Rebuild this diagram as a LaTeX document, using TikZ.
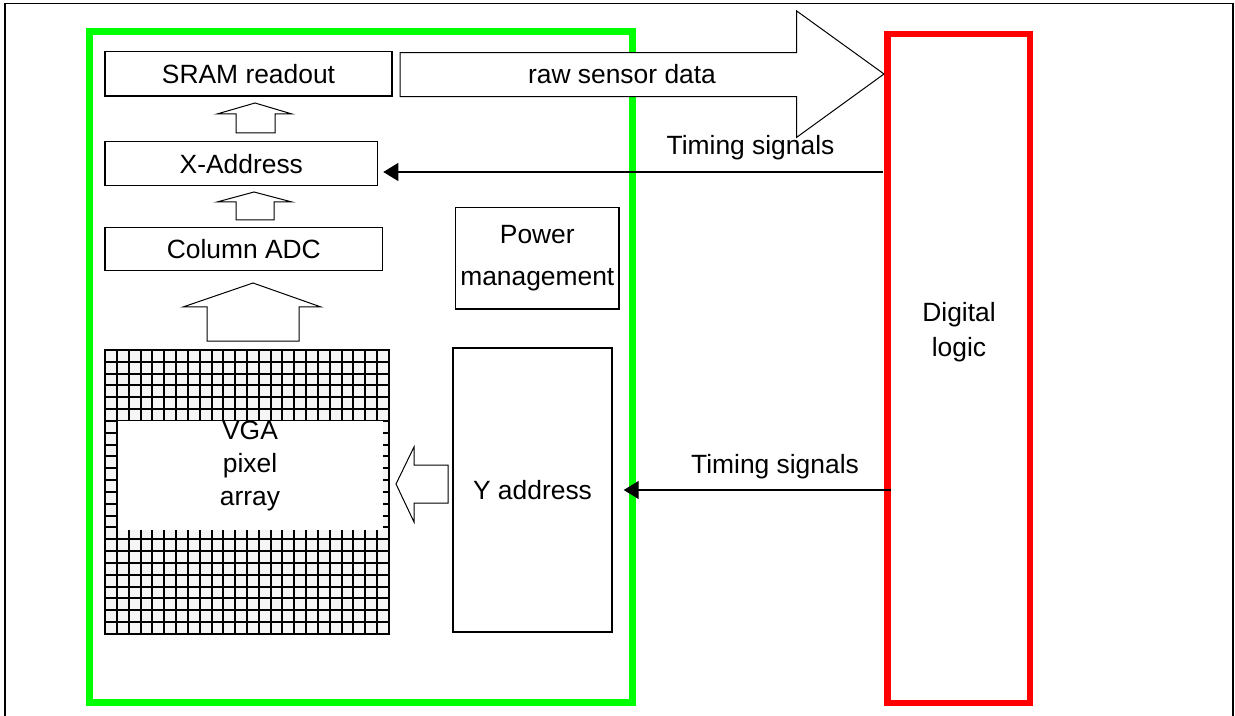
\documentclass[tikz,border=0pt]{standalone}
\usepackage{fontspec}
\setmainfont{Liberation Sans}
\usepackage{tikz}
\usetikzlibrary{calc}
\usetikzlibrary{arrows.meta}
\tikzset{>={Triangle[length=7.5pt,width=9pt]}}
\definecolor{chipgreen}{RGB}{0,255,0}
\definecolor{logicred}{RGB}{255,0,0}
\definecolor{cellgray}{RGB}{245,245,245}

\begin{document}
\begin{tikzpicture}[x=0.5pt,y=-0.5pt,
    every node/.style={font=\fontsize{13.2}{16}\selectfont, inner sep=0pt},
    block/.style={draw, line width=0.7pt, fill=white},
    blockarrow/.style={draw, line width=0.5pt, fill=white, line join=miter},
    signal/.style={->, line width=0.6pt},
  ]
  \useasboundingbox (0,0) rectangle (1235,716);
  \draw[line width=0.7pt] (5,716) -- (5,3.5) -- (1233,3.5) -- (1233,716);

  % sensor chip
  \node[draw=chipgreen, line width=3.3pt, minimum width=271.6pt, minimum height=335.4pt] (chip) at (361.1,366.9) {};

  \node[block, minimum width=143.5pt, minimum height=22.2pt] (sram) at (248.5,73.8) {SRAM readout};
  \node[block, minimum width=136.3pt, minimum height=22pt] (xaddr) at (241.3,163.7) {X-Address};
  \node[block, minimum width=138.8pt, minimum height=21.7pt] (adc) at (243.8,249) {Column ADC};
  \node[block, minimum width=81.7pt, minimum height=50.9pt, align=center,
        font=\fontsize{13.2}{21.3}\selectfont] (power) at (537.3,258.2) {Power\\management};
  \node[block, minimum width=79.5pt, minimum height=142pt] (yaddr) at (532.5,490) {Y address};

  % pixel array
  \node[draw, line width=1pt, fill=cellgray, minimum size=142pt] (pixels) at (247.2,492) {};
  \foreach \k in {1,...,23} {
    \draw[line width=1pt] (105+\k*11.833,350) -- (105+\k*11.833,634);
    \draw[line width=1pt] (105,350+\k*11.833) -- (389.3,350+\k*11.833);
  }
  \fill[white] (118,421) rectangle (383,530);
  \node[align=center, font=\fontsize{13.2}{16.5}\selectfont] (vga) at (250,466) {VGA\\pixel\\array};

  % digital part
  \node[draw=logicred, line width=3.3pt, minimum width=71.3pt, minimum height=334.5pt] (digital) at (958.8,368.5) {};
  \node[align=center, font=\fontsize{13.2}{17.5}\selectfont] (logic) at (959,332) {Digital\\logic};

  % block arrows
  \draw[blockarrow] (400,52.7) -- (796.7,52.7) -- (796.7,11) -- (884,74) -- (796.7,137.3) -- (796.7,96.7) -- (400,96.7) -- cycle;
  \node (raw) at (622,74) {raw sensor data};
  \draw[blockarrow] (236,133) -- (236,114) -- (217,114) -- (255,103) -- (292,114) -- (275,114) -- (275,133) -- cycle;
  \draw[blockarrow] (236,220) -- (236,202) -- (217,202) -- (254,192) -- (292,202) -- (274,202) -- (274,220) -- cycle;
  \draw[blockarrow] (207,341) -- (207,307) -- (183,307) -- (253,283) -- (321,307) -- (299,307) -- (299,341) -- cycle;
  \draw[blockarrow] (448,465) -- (414,465) -- (414,447) -- (396,484) -- (414,522) -- (414,503) -- (448,503) -- cycle;

  % timing signals
  \coordinate (t1) at (883,172);
  \draw[signal] (t1) -- ([xshift=2.5pt]xaddr.east |- t1);
  \node (sig1) at (750.5,148) {Timing signals};
  \coordinate (t2) at (891,490);
  \draw[signal] (t2) -- ([xshift=5.5pt]yaddr.east |- t2);
  \node (sig2) at (775,467) {Timing signals};
\end{tikzpicture}
\end{document}
